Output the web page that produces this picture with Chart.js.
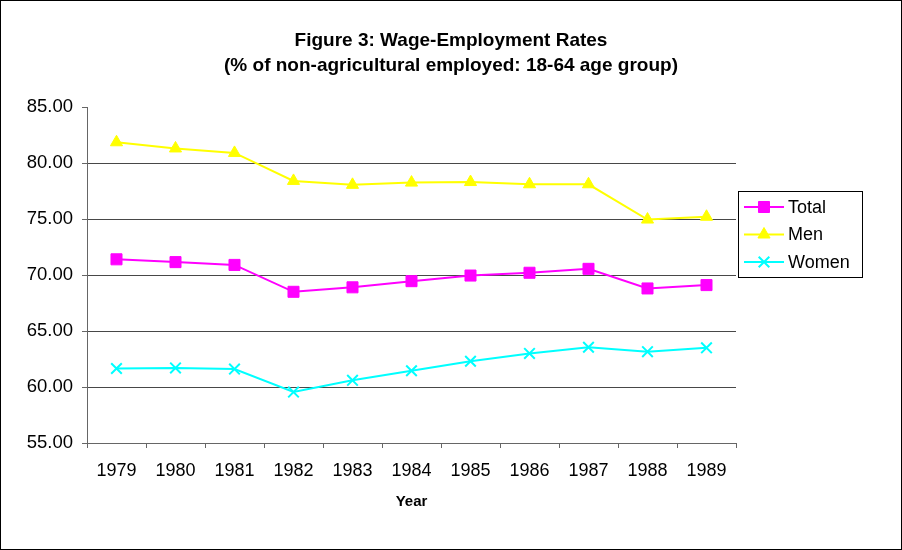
<!DOCTYPE html>
<html>
<head>
<meta charset="utf-8">
<script src="https://cdn.jsdelivr.net/npm/chart.js@4/dist/chart.umd.min.js"></script>
<style>
html,body{margin:0;padding:0;background:#fff;}
#wrap{width:902px;height:550px;}
</style>
</head>
<body>
<div id="wrap"><canvas id="c" width="902" height="550"></canvas></div>
<script>
const titleLines = ["Figure 3: Wage-Employment Rates", "(% of non-agricultural employed: 18-64 age group)"];
const xAxisTitle = "Year";
const years = ["1979","1980","1981","1982","1983","1984","1985","1986","1987","1988","1989"];
const seriesNames = ["Total", "Men", "Women"];
const totalValues = [71.4, 71.15, 70.9, 68.5, 68.9, 69.45, 69.95, 70.2, 70.55, 68.8, 69.1];
const menValues   = [81.85, 81.3, 80.9, 78.4, 78.05, 78.25, 78.3, 78.1, 78.1, 74.95, 75.2];
const womenValues = [61.65, 61.7, 61.6, 59.55, 60.6, 61.45, 62.3, 63.0, 63.55, 63.15, 63.5];
const yMin = 55, yMax = 85, yStep = 5;

const FONT = "'Liberation Sans', Arial, sans-serif";

const borderPlugin = {
  id: 'outerBorder',
  beforeDraw(chart) {
    const ctx = chart.ctx;
    ctx.save();
    ctx.fillStyle = '#fff';
    ctx.fillRect(0, 0, chart.width, chart.height);
    ctx.restore();
  },
  afterDraw(chart) {
    const ctx = chart.ctx;
    ctx.save();
    ctx.strokeStyle = '#000';
    ctx.lineWidth = 1;
    ctx.strokeRect(0.5, 0.5, chart.width - 1, chart.height - 1);
    ctx.restore();
  }
};

const legendPlugin = {
  id: 'boxLegend',
  afterDraw(chart) {
    const ctx = chart.ctx;
    const bx = 738, by = 191, bw = 124, bh = 86;
    ctx.save();
    ctx.strokeStyle = '#000';
    ctx.lineWidth = 1;
    ctx.strokeRect(bx + 0.5, by + 0.5, bw, bh);
    chart.data.datasets.forEach((ds, i) => {
      const cy = by + 16 + i * 27.5;
      ctx.strokeStyle = ds.borderColor;
      ctx.lineWidth = 2;
      ctx.beginPath();
      ctx.moveTo(bx + 6, cy);
      ctx.lineTo(bx + 46, cy);
      ctx.stroke();
      ctx.fillStyle = ds.pointBackgroundColor;
      ctx.strokeStyle = ds.pointBorderColor;
      ctx.lineWidth = ds.pointBorderWidth;
      Chart.helpers.drawPoint(ctx, {pointStyle: ds.pointStyle, rotation: 0, radius: ds.pointRadius, borderWidth: ds.pointBorderWidth}, bx + 26, cy);
      ctx.fillStyle = '#000';
      ctx.font = "18px " + FONT;
      ctx.textBaseline = 'middle';
      ctx.textAlign = 'left';
      ctx.fillText(ds.label, bx + 50, cy + 1);
    });
    ctx.restore();
  }
};

const cfg = {
  type: 'line',
  data: {
    labels: years,
    datasets: [
      {label: seriesNames[0], data: totalValues, borderColor: '#FF00FF', backgroundColor: '#FF00FF',
       pointStyle: 'rect', pointRadius: 7.8, pointBackgroundColor: '#FF00FF', pointBorderColor: '#FF00FF', pointBorderWidth: 1,
       borderWidth: 2, tension: 0},
      {label: seriesNames[1], data: menValues, borderColor: '#FFFF00', backgroundColor: '#FFFF00',
       pointStyle: 'triangle', pointRadius: 7, pointBackgroundColor: '#FFFF00', pointBorderColor: '#FFFF00', pointBorderWidth: 1,
       borderWidth: 2, tension: 0},
      {label: seriesNames[2], data: womenValues, borderColor: '#00FFFF', backgroundColor: '#00FFFF',
       pointStyle: 'crossRot', pointRadius: 7.5, pointBackgroundColor: '#00FFFF', pointBorderColor: '#00FFFF', pointBorderWidth: 2,
       borderWidth: 2, tension: 0}
    ]
  },
  options: {
    responsive: false,
    animation: false,
    devicePixelRatio: 1,
    layout: {padding: {top: 0, right: 0, bottom: 0, left: 0}},
    plugins: {
      legend: {display: false},
      tooltip: {enabled: false},
      title: {
        display: true,
        fullSize: true,
        text: titleLines,
        color: '#000',
        font: {family: FONT, size: 19, weight: 'bold', lineHeight: '25px'},
        padding: {top: 28.5, bottom: 28.5}
      }
    },
    scales: {
      x: {
        type: 'category',
        offset: true,
        afterFit(scale) { scale.height = 107; },
        grid: {display: true, drawOnChartArea: false, drawTicks: true, tickLength: 5, offset: true, color: '#666', tickColor: '#666'},
        border: {display: true, color: '#666', width: 1},
        ticks: {color: '#000', font: {family: FONT, size: 18}, padding: 12, maxRotation: 0, autoSkip: false},
        title: {display: true, text: xAxisTitle, color: '#000', font: {family: FONT, size: 15, weight: 'bold', lineHeight: 1.2}, padding: {top: 0, bottom: 39}}
      },
      y: {
        min: yMin, max: yMax,
        afterFit(scale) { scale.width = 87; },
        grid: {
          drawTicks: true, tickLength: 5,
          color: (ctx) => (ctx.tick && (ctx.tick.value === yMax || ctx.tick.value === yMin)) ? 'rgba(0,0,0,0)' : '#484848',
          tickColor: '#666'
        },
        border: {display: true, color: '#666', width: 1},
        ticks: {stepSize: yStep, color: '#000', font: {family: FONT, size: 18.5}, padding: 9,
          callback: (v) => Number(v).toFixed(2)}
      },
      legendSpace: {
        type: 'linear',
        position: 'right',
        min: yMin, max: yMax,
        afterFit(scale) { scale.width = 166; },
        grid: {display: false, drawOnChartArea: false, drawTicks: false},
        border: {display: false},
        ticks: {display: false},
        title: {display: false}
      }
    }
  },
  plugins: [borderPlugin, legendPlugin]
};

new Chart(document.getElementById('c'), cfg);
</script>
</body>
</html>
